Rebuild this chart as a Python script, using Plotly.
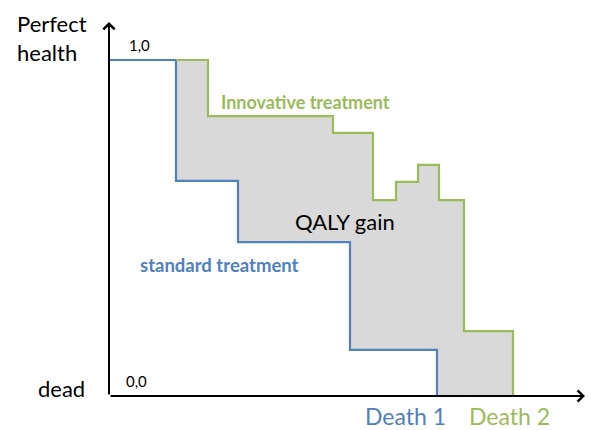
import plotly.graph_objects as go

# Standard treatment (step curve): time points and health-related quality of life
std_x = [0, 67, 129, 241, 328]
std_y = [1.0, 0.64, 0.458, 0.137, 0.0]

# Innovative treatment (step curve)
inn_x = [67, 99, 224, 264, 287, 309, 330, 355, 404]
inn_y = [1.0, 0.833, 0.783, 0.583, 0.637, 0.688, 0.583, 0.193, 0.0]

BLUE = "#4F81BD"
GREEN = "#9BBB59"
FONT = "Lato"


def steps(xs, ys):
    """Expand points into horizontal-then-vertical step vertices."""
    px, py = [xs[0]], [ys[0]]
    for i in range(1, len(xs)):
        px += [xs[i], xs[i]]
        py += [ys[i - 1], ys[i]]
    return px, py


sx, sy = steps(std_x, std_y)
gx, gy = steps(inn_x, inn_y)

# Polygon for QALY gain: innovative path forward, standard path backward
start = sx.index(inn_x[0])
bx = sx[start:][::-1]
by = sy[start:][::-1]
poly_x = gx + bx
poly_y = gy + by

fig = go.Figure()
fig.add_trace(go.Scatter(x=poly_x, y=poly_y, fill="toself", fillcolor="#D9D9D9",
                         mode="lines", line=dict(width=0), hoverinfo="skip"))
fig.add_trace(go.Scatter(x=sx, y=sy, mode="lines", line=dict(color=BLUE, width=2.2)))
fig.add_trace(go.Scatter(x=gx, y=gy, mode="lines", line=dict(color=GREEN, width=2.2)))

W, H = 597, 430
ml, mr, mt, mb = 109, 12, 22, 34
xmax = W - ml - mr
ymax = (H - mt - mb) / 336.0

# axes arrows
fig.add_annotation(x=0, y=ymax, ax=0, ay=0, xref="x", yref="y", axref="x", ayref="y",
                   showarrow=True, arrowhead=4, arrowsize=1.1, arrowwidth=2, arrowcolor="black",
                   text="", standoff=0)
fig.add_annotation(x=xmax, y=0, ax=0, ay=0, xref="x", yref="y", axref="x", ayref="y",
                   showarrow=True, arrowhead=4, arrowsize=1.1, arrowwidth=2, arrowcolor="black",
                   text="", standoff=0)


def label(text, x, y, size, color="black", bold=False, xanchor="center"):
    if bold:
        text = "<b>" + text + "</b>"
    fig.add_annotation(x=x / xmax, y=y / ymax, xref="paper", yref="paper", text=text,
                       showarrow=False, xanchor=xanchor, yanchor="middle",
                       font=dict(family=FONT, size=size, color=color))


label("Perfect", -94, 1.11, 22, xanchor="left")
label("health", -94, 1.022, 22, xanchor="left")
label("dead", -48, 0.022, 22)
label("1,0", 30, 1.045, 15)
label("0,0", 27.5, 0.045, 15)
label("Innovative treatment", 196, 0.876, 18, GREEN, bold=True)
label("standard treatment", 110, 0.39, 18.5, BLUE, bold=True)
label("QALY gain", 236, 0.52, 22)
label("Death 1", 296.5, -0.06, 23, BLUE)
label("Death 2", 400, -0.06, 23, GREEN)

fig.update_xaxes(range=[0, xmax], visible=False, fixedrange=True)
fig.update_yaxes(range=[0, ymax], visible=False, fixedrange=True)
fig.update_layout(width=W, height=H, margin=dict(l=ml, r=mr, t=mt, b=mb),
                  showlegend=False, plot_bgcolor="white", paper_bgcolor="white")

fig.write_html("out.html", config={"displayModeBar": False},
               post_script="document.body.style.margin='0';")
